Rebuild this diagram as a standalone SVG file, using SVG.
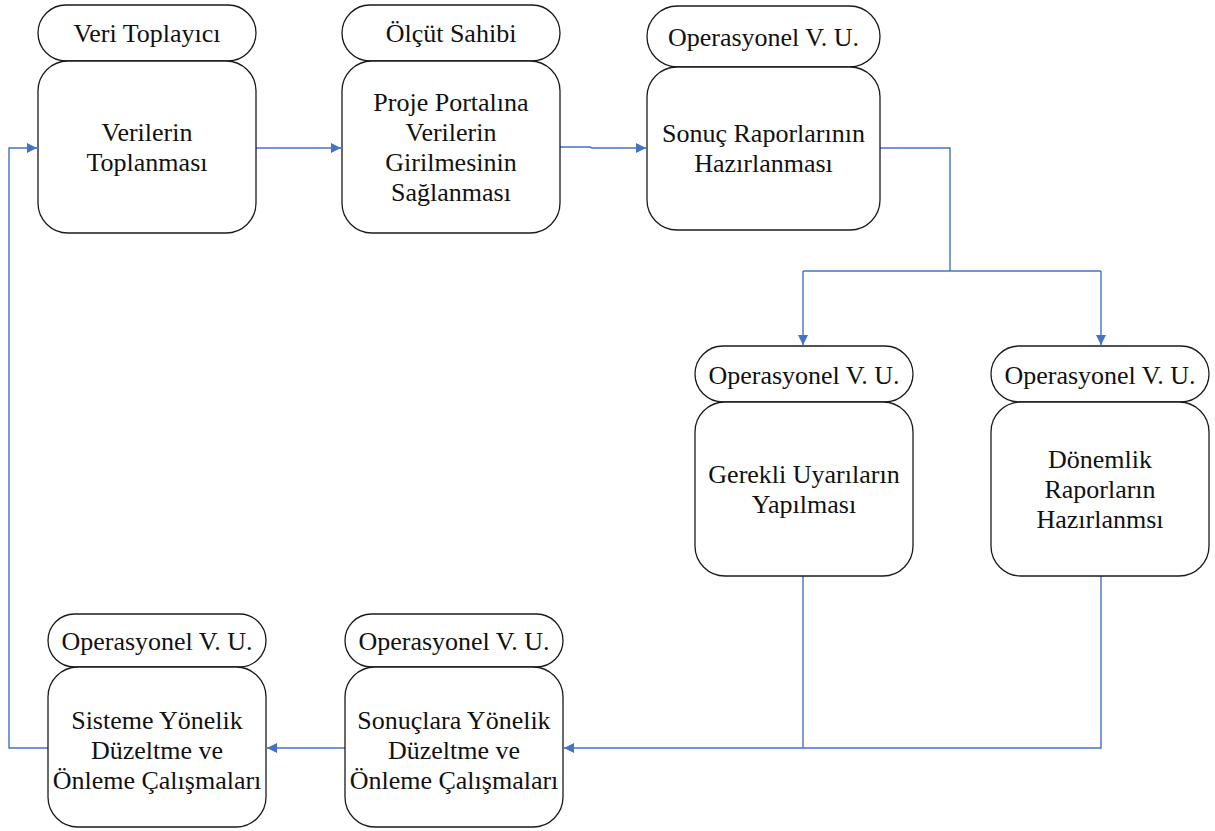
<svg xmlns="http://www.w3.org/2000/svg" width="1215" height="831" viewBox="0 0 1215 831">
  <style>
    .pill { fill: #ffffff; stroke: #1a1a1a; stroke-width: 1.3; }
    .box { fill: #ffffff; stroke: #1a1a1a; stroke-width: 1.3; }
    .lbl { font-family: "Liberation Serif", "Times New Roman", serif; font-size: 26px; fill: #111111; text-anchor: middle; }
    .flow { fill: none; stroke: #4472C4; stroke-width: 1.4; }
  </style>
  <defs>
    <marker id="arrow" viewBox="0 0 10 10" refX="10" refY="5" markerWidth="10" markerHeight="10" markerUnits="userSpaceOnUse" orient="auto">
      <path d="M0,0 L10,5 L0,10 Z" fill="#4472C4"/>
    </marker>
  </defs>
  <rect width="1215" height="831" fill="#ffffff"/>

  <!-- connectors -->
  <g id="connectors">
    <path class="flow" d="M256,148 H341" marker-end="url(#arrow)"/>
    <path class="flow" d="M560,147 H590 L592,148 H646" marker-end="url(#arrow)"/>
    <path class="flow" d="M880,148 H950 V271"/>
    <path class="flow" d="M803,271 H1101"/>
    <path class="flow" d="M803,271 V345" marker-end="url(#arrow)"/>
    <path class="flow" d="M1101,271 V345" marker-end="url(#arrow)"/>
    <path class="flow" d="M803,576 V748"/>
    <path class="flow" d="M1101,576 V748 H564" marker-end="url(#arrow)"/>
    <path class="flow" d="M345,748 H267" marker-end="url(#arrow)"/>
    <path class="flow" d="M48,748 H9 V148 H37" marker-end="url(#arrow)"/>
  </g>

  <!-- Veri Toplayıcı -->
  <g id="node-veri-toplama">
    <rect class="pill" x="38" y="5" width="218" height="56" rx="28" ry="28"/>
    <rect class="box" x="38" y="61" width="218" height="172" rx="30" ry="30"/>
    <text class="lbl" x="147" y="42">Veri Toplayıcı</text>
    <text class="lbl" x="147" y="141">Verilerin</text>
    <text class="lbl" x="147" y="171">Toplanması</text>
  </g>

  <!-- Ölçüt Sahibi -->
  <g id="node-portal-giris">
    <rect class="pill" x="342" y="5" width="218" height="56" rx="28" ry="28"/>
    <rect class="box" x="342" y="61" width="218" height="172" rx="30" ry="30"/>
    <text class="lbl" x="451" y="42">Ölçüt Sahibi</text>
    <text class="lbl" x="451" y="111">Proje Portalına</text>
    <text class="lbl" x="451" y="141">Verilerin</text>
    <text class="lbl" x="451" y="171">Girilmesinin</text>
    <text class="lbl" x="451" y="201">Sağlanması</text>
  </g>

  <!-- Sonuç raporları -->
  <g id="node-sonuc-raporlari">
    <rect class="pill" x="647" y="6" width="233" height="61" rx="30.5" ry="30.5"/>
    <rect class="box" x="647" y="67" width="233" height="163" rx="30" ry="30"/>
    <text class="lbl" x="763.5" y="46">Operasyonel V. U.</text>
    <text class="lbl" x="763.5" y="142">Sonuç Raporlarının</text>
    <text class="lbl" x="763.5" y="172">Hazırlanması</text>
  </g>

  <!-- Uyarılar -->
  <g id="node-uyarilar">
    <rect class="pill" x="695" y="346" width="218" height="56" rx="28" ry="28"/>
    <rect class="box" x="695" y="402" width="218" height="174" rx="30" ry="30"/>
    <text class="lbl" x="804" y="384">Operasyonel V. U.</text>
    <text class="lbl" x="804" y="483">Gerekli Uyarıların</text>
    <text class="lbl" x="804" y="513">Yapılması</text>
  </g>

  <!-- Dönemlik raporlar -->
  <g id="node-donemlik-raporlar">
    <rect class="pill" x="991" y="346" width="218" height="56" rx="28" ry="28"/>
    <rect class="box" x="991" y="402" width="218" height="174" rx="30" ry="30"/>
    <text class="lbl" x="1100" y="384">Operasyonel V. U.</text>
    <text class="lbl" x="1100" y="468">Dönemlik</text>
    <text class="lbl" x="1100" y="498">Raporların</text>
    <text class="lbl" x="1100" y="528">Hazırlanmsı</text>
  </g>

  <!-- Sisteme yönelik -->
  <g id="node-sistem-duzeltme">
    <rect class="pill" x="48" y="614" width="218" height="53" rx="26.5" ry="26.5"/>
    <rect class="box" x="48" y="667" width="218" height="160" rx="30" ry="30"/>
    <text class="lbl" x="157" y="650">Operasyonel V. U.</text>
    <text class="lbl" x="157" y="729">Sisteme Yönelik</text>
    <text class="lbl" x="157" y="759">Düzeltme ve</text>
    <text class="lbl" x="157" y="789">Önleme Çalışmaları</text>
  </g>

  <!-- Sonuçlara yönelik -->
  <g id="node-sonuc-duzeltme">
    <rect class="pill" x="345" y="614" width="218" height="53" rx="26.5" ry="26.5"/>
    <rect class="box" x="345" y="667" width="218" height="160" rx="30" ry="30"/>
    <text class="lbl" x="454" y="650">Operasyonel V. U.</text>
    <text class="lbl" x="454" y="729">Sonuçlara Yönelik</text>
    <text class="lbl" x="454" y="759">Düzeltme ve</text>
    <text class="lbl" x="454" y="789">Önleme Çalışmaları</text>
  </g>
</svg>
